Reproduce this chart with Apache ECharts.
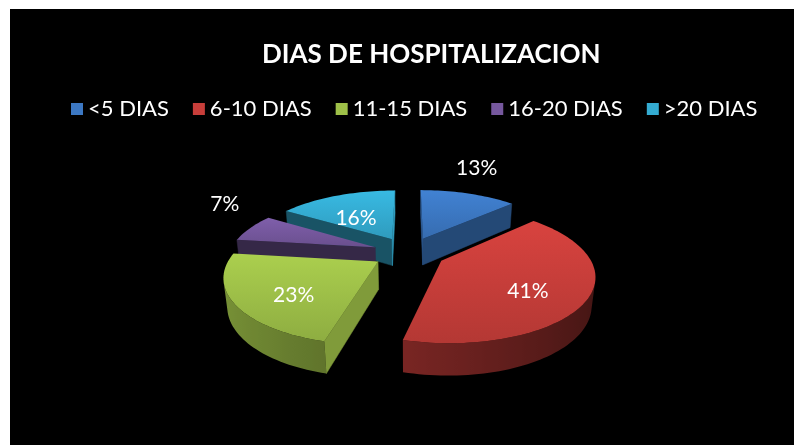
<!DOCTYPE html>
<html>
<head>
<meta charset="utf-8">
<script src="https://cdn.jsdelivr.net/npm/echarts@6/dist/echarts.min.js"></script>
<style>
  html, body { margin: 0; padding: 0; background: #fff; }
  #chart { position: absolute; left: 10px; top: 9px; width: 784px; height: 436px; background: #000; }
</style>
</head>
<body>
<div id="chart"></div>
<script>
const categories = ['<5 DIAS', '6-10 DIAS', '11-15 DIAS', '16-20 DIAS', '>20 DIAS'];
const values = [13, 41, 23, 7, 16];
const colors = ['#3C78C3', '#C83E3A', '#9EC048', '#76589E', '#34ACD2'];

// fake 3d pie: tilt + perspective + explode
const TILT = 25.5 * Math.PI / 180;
const PERSP = 0.215;
const EXPLODE = 0.25;
const THICK = 0.21;
const SCALE = 146;
const CAM = [0, -Math.cos(TILT) / PERSP, Math.sin(TILT) / PERSP];
const FONT = 'Lato, "Open Sans", sans-serif';

const total = values.reduce((a, b) => a + b, 0);
let acc = 0;
const slices = values.map(v => {
  const a0 = acc / total * Math.PI * 2;
  acc += v;
  const a1 = acc / total * Math.PI * 2;
  const mid = (a0 + a1) / 2;
  return { a0, a1, mid, ox: EXPLODE * Math.sin(mid), oy: EXPLODE * Math.cos(mid) };
});

function shade(hex, f) {
  const n = parseInt(hex.slice(1), 16);
  const c = [(n >> 16) & 255, (n >> 8) & 255, n & 255].map(x => Math.max(0, Math.min(255, Math.round(x * f))));
  return 'rgb(' + c.join(',') + ')';
}

function project(q, cx, cy) {
  const d = 1 + PERSP * (q[1] * Math.cos(TILT) - q[2] * Math.sin(TILT));
  return [cx + SCALE * q[0] / d, cy - SCALE * (q[1] * Math.sin(TILT) + q[2] * Math.cos(TILT)) / d];
}

function facing(n, p) {
  return n[0] * (CAM[0] - p[0]) + n[1] * (CAM[1] - p[1]) + n[2] * (CAM[2] - p[2]) > 0;
}

function center(api) {
  return [api.getWidth() * 0.509, api.getHeight() * 0.5585];
}

function renderSlice(i) {
  return function (params, api) {
    const [cx, cy] = center(api);
    const s = slices[i];
    const col = colors[i];
    const rim = (t, w) => [s.ox + Math.sin(t), s.oy + Math.cos(t), w];
    const ctr = w => [s.ox, s.oy, w];
    const P = q => project(q, cx, cy);
    const children = [];

    // cut faces
    [[s.a0, [-Math.cos(s.a0), Math.sin(s.a0), 0]], [s.a1, [Math.cos(s.a1), -Math.sin(s.a1), 0]]].forEach(([t, n]) => {
      const m = [s.ox + Math.sin(t) / 2, s.oy + Math.cos(t) / 2, -THICK / 2];
      if (facing(n, m)) {
        const fill = shade(col, 0.84 + 0.065 * n[0] + 0.384 * n[1]);
        children.push({
          type: 'polygon',
          shape: { points: [ctr(0), rim(t, 0), rim(t, -THICK), ctr(-THICK)].map(P) },
          style: { fill: fill, stroke: fill, lineWidth: 0.5 }
        });
      }
    });

    // outer wall, one polygon for the visible part
    const steps = Math.max(2, Math.ceil((s.a1 - s.a0) / 0.03));
    const vis = [];
    for (let k = 0; k <= steps; k++) {
      const t = s.a0 + (s.a1 - s.a0) * k / steps;
      if (facing([Math.sin(t), Math.cos(t), 0], rim(t, -THICK / 2))) vis.push(t);
    }
    if (vis.length > 1) {
      const upper = vis.map(t => P(rim(t, 0)));
      const lower = vis.map(t => P(rim(t, -THICK))).reverse();
      const xs = upper.map(p => p[0]);
      const minX = Math.min(...xs), maxX = Math.max(...xs);
      const stops = vis.map((t, k) => ({
        offset: maxX > minX ? (xs[k] - minX) / (maxX - minX) : 0,
        color: shade(col, 0.55 - 0.22 * Math.sin(t))
      })).sort((a, b) => a.offset - b.offset);
      children.push({
        type: 'polygon',
        shape: { points: upper.concat(lower) },
        style: { fill: { type: 'linear', x: 0, y: 0, x2: 1, y2: 0, colorStops: stops } }
      });
    }

    // top
    const top = [ctr(0)];
    for (let k = 0; k <= steps; k++) top.push(rim(s.a0 + (s.a1 - s.a0) * k / steps, 0));
    children.push({
      type: 'polygon',
      shape: { points: top.map(P) },
      style: {
        fill: {
          type: 'linear', x: 0, y: 0, x2: 0, y2: 1,
          colorStops: [{ offset: 0, color: shade(col, 1.08) }, { offset: 1, color: shade(col, 0.9) }]
        }
      }
    });
    return { type: 'group', children: children };
  };
}

function renderLabel(params, api) {
  const [cx, cy] = center(api);
  const i = params.dataIndex;
  const s = slices[i];
  const inside = values[i] / total >= 0.15;
  const r = EXPLODE + (inside ? 0.62 : 1.2);
  const w = inside ? -0.06 : 0.16;
  const p = project([r * Math.sin(s.mid), r * Math.cos(s.mid), w], cx, cy);
  return {
    type: 'text',
    x: p[0],
    y: p[1],
    style: {
      text: Math.round(values[i] / total * 100) + '%',
      fill: '#fff',
      fontSize: 21,
      fontFamily: FONT,
      align: 'center',
      verticalAlign: 'middle'
    }
  };
}

// back slices first
const order = slices.map((s, i) => i).sort((a, b) => slices[b].oy - slices[a].oy);

const series = categories.map((name, i) => ({
  type: 'custom',
  name: name,
  coordinateSystem: 'none',
  renderItem: renderSlice(i),
  data: [values[i]],
  itemStyle: { color: colors[i] },
  z: 2 + order.indexOf(i),
  silent: true
}));
series.push({
  type: 'custom',
  name: 'labels',
  coordinateSystem: 'none',
  renderItem: renderLabel,
  data: values,
  z: 20,
  silent: true
});

const chart = echarts.init(document.getElementById('chart'));
chart.setOption({
  backgroundColor: '#000',
  animation: false,
  title: {
    text: 'DIAS DE HOSPITALIZACION',
    left: 247,
    top: 28,
    textStyle: { color: '#fff', fontSize: 26, fontWeight: 'bold', fontFamily: FONT }
  },
  legend: {
    data: categories,
    left: 56,
    top: 84,
    icon: 'rect',
    itemWidth: 12,
    itemHeight: 12,
    itemGap: 24,
    textStyle: { color: '#fff', fontSize: 22, fontFamily: FONT }
  },
  series: series
});
</script>
</body>
</html>
